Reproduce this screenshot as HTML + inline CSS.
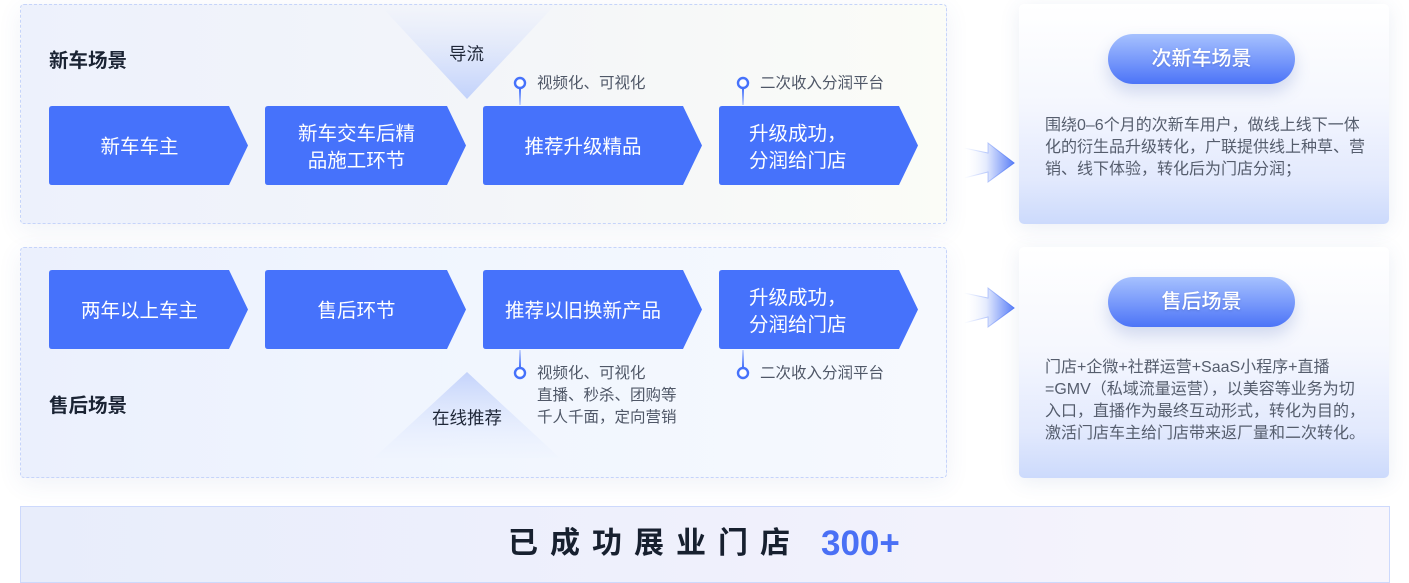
<!DOCTYPE html>
<html><head><meta charset="utf-8"><style>
*{margin:0;padding:0;box-sizing:border-box}
body{width:1409px;height:583px;background:#fff;position:relative;overflow:hidden;font-family:"Liberation Sans","Noto Sans CJK SC",sans-serif}
.abs{position:absolute}
.panel{position:absolute;border:1px dashed #c6d4fa;border-radius:4px;box-shadow:0 6px 24px rgba(60,90,160,0.08)}
.card{position:absolute;border-radius:5px;background:linear-gradient(180deg,#ffffff 0%,#f5f7fe 45%,#e2e9fd 80%,#ccdafc 100%);box-shadow:0 4px 20px rgba(60,90,160,0.10)}
.pill{position:absolute;left:1108px;width:187px;height:50px;border-radius:25px;background:linear-gradient(180deg,#a6c1fe 0%,#7a9bfb 50%,#4c74f7 100%);box-shadow:0 8px 16px rgba(70,100,180,0.22);color:#fff;font-size:20px;font-weight:500;text-align:center;line-height:50px;text-shadow:0 1px 2px rgba(40,60,140,0.25)}
.desc{position:absolute;left:1045px;font-size:16px;line-height:22px;color:#555d6d;white-space:nowrap}
.ct{position:absolute;color:#fff;font-size:19.5px;line-height:27px;text-align:center}
.lbl{position:absolute;font-size:19.5px;font-weight:700;color:#1b2434;line-height:24px}
.note{position:absolute;font-size:15.5px;line-height:22px;color:#4f5767;white-space:nowrap}
</style></head><body>

<div class="panel" style="left:20px;top:4px;width:927px;height:220px;background:linear-gradient(90deg,#edf1fc 0%,#f3f5f9 50%,#fbfcf7 100%)"></div>
<div class="panel" style="left:20px;top:247px;width:927px;height:231px;background:linear-gradient(90deg,#ebf0fd 0%,#f1f6fe 50%,#f6f9fe 100%)"></div>

<div class="card" style="left:1019px;top:4px;width:370px;height:220px"></div>
<div class="card" style="left:1019px;top:247px;width:370px;height:231px"></div>

<svg class="abs" style="left:0;top:0" width="1409" height="583" viewBox="0 0 1409 583">
<defs>
<linearGradient id="tg1" x1="0" y1="0" x2="0" y2="1">
<stop offset="0" stop-color="#f3f5fb" stop-opacity="0.6"/>
<stop offset="1" stop-color="#c2d2fb"/>
</linearGradient>
<linearGradient id="tg2" x1="0" y1="0" x2="0" y2="1">
<stop offset="0" stop-color="#c4d3fb"/>
<stop offset="1" stop-color="#eef3fe" stop-opacity="0.3"/>
</linearGradient>
<linearGradient id="ag" x1="0" y1="0" x2="1" y2="0">
<stop offset="0" stop-color="#ffffff" stop-opacity="0"/>
<stop offset="0.45" stop-color="#e3eafd"/>
<stop offset="1" stop-color="#5c80f7"/>
</linearGradient>
<linearGradient id="ast" x1="0" y1="0" x2="1" y2="0">
<stop offset="0" stop-color="#8aa5f9" stop-opacity="0"/>
<stop offset="0.5" stop-color="#8aa5f9" stop-opacity="0.6"/>
<stop offset="1" stop-color="#5077f6"/>
</linearGradient>
<linearGradient id="stem1" x1="0" y1="0" x2="0" y2="1">
<stop offset="0" stop-color="#4672fb"/>
<stop offset="1" stop-color="#c9d6fc"/>
</linearGradient>
<linearGradient id="stem2" x1="0" y1="0" x2="0" y2="1">
<stop offset="0" stop-color="#c9d6fc"/>
<stop offset="1" stop-color="#4672fb"/>
</linearGradient>
</defs>

<polygon points="380,5 555,5 467,99" fill="url(#tg1)"/>
<polygon points="467,372 560,458 374,458" fill="url(#tg2)"/>

<g fill="#4672fb">
<path d="M52,106 H229 L248,145.5 L229,185 H52 Q49,185 49,182 V109 Q49,106 52,106 Z"/>
<path d="M268,106 H447 L466,145.5 L447,185 H268 Q265,185 265,182 V109 Q265,106 268,106 Z"/>
<path d="M486,106 H683 L702,145.5 L683,185 H486 Q483,185 483,182 V109 Q483,106 486,106 Z"/>
<path d="M722,106 H899 L918,145.5 L899,185 H722 Q719,185 719,182 V109 Q719,106 722,106 Z"/>
<path d="M52,270 H229 L248,309.5 L229,349 H52 Q49,349 49,346 V273 Q49,270 52,270 Z"/>
<path d="M268,270 H447 L466,309.5 L447,349 H268 Q265,349 265,346 V273 Q265,270 268,270 Z"/>
<path d="M486,270 H683 L702,309.5 L683,349 H486 Q483,349 483,346 V273 Q483,270 486,270 Z"/>
<path d="M722,270 H899 L918,309.5 L899,349 H722 Q719,349 719,346 V273 Q719,270 722,270 Z"/>
</g>

<rect x="519" y="89" width="2" height="16" fill="url(#stem1)"/>
<circle cx="520" cy="83" r="5" fill="#fff" stroke="#4672fb" stroke-width="2.4"/>
<rect x="742" y="89" width="2" height="16" fill="url(#stem1)"/>
<circle cx="743" cy="83" r="5" fill="#fff" stroke="#4672fb" stroke-width="2.4"/>
<rect x="519" y="350" width="2" height="17" fill="url(#stem2)"/>
<circle cx="520" cy="373" r="5" fill="#fff" stroke="#4672fb" stroke-width="2.4"/>
<rect x="742" y="350" width="2" height="17" fill="url(#stem2)"/>
<circle cx="743" cy="373" r="5" fill="#fff" stroke="#4672fb" stroke-width="2.4"/>

<polygon points="964,148 988,153 988,143 1014,163 988,182 988,172 964,178" fill="url(#ag)"/>
<polyline points="964,148 988,153 988,143 1014,163 988,182 988,172 964,178" fill="none" stroke="url(#ast)" stroke-width="1"/>
<polygon points="964,293 988,298 988,288 1014,308 988,327 988,317 964,323" fill="url(#ag)"/>
<polyline points="964,293 988,298 988,288 1014,308 988,327 988,317 964,323" fill="none" stroke="url(#ast)" stroke-width="1"/>
</svg>

<div class="lbl" style="left:49px;top:49px">新车场景</div>
<div class="lbl" style="left:49px;top:394px">售后场景</div>
<div class="abs" style="left:449px;top:42px;font-size:17.5px;line-height:24px;color:#1f2738">导流</div>
<div class="abs" style="left:432px;top:406px;font-size:17.5px;line-height:24px;color:#1f2738">在线推荐</div>

<div class="ct" style="left:49px;width:181px;top:134px">新车车主</div>
<div class="ct" style="left:265px;width:183px;top:121px">新车交车后精<br>品施工环节</div>
<div class="ct" style="left:483px;width:200px;top:134px">推荐升级精品</div>
<div class="ct" style="left:749px;top:121px;text-align:left">升级成功，<br>分润给门店</div>
<div class="ct" style="left:49px;width:181px;top:298px">两年以上车主</div>
<div class="ct" style="left:265px;width:183px;top:298px">售后环节</div>
<div class="ct" style="left:483px;width:200px;top:298px">推荐以旧换新产品</div>
<div class="ct" style="left:749px;top:285px;text-align:left">升级成功，<br>分润给门店</div>

<div class="note" style="left:537px;top:73px">视频化、可视化</div>
<div class="note" style="left:760px;top:73px">二次收入分润平台</div>
<div class="note" style="left:537px;top:363px">视频化、可视化<br>直播、秒杀、团购等<br>千人千面，定向营销</div>
<div class="note" style="left:760px;top:363px">二次收入分润平台</div>

<div class="pill" style="top:34px">次新车场景</div>
<div class="pill" style="top:277px">售后场景</div>

<div class="desc" style="top:115px">围绕0–6个月的次新车用户，做线上线下一体<br>化的衍生品升级转化，广联提供线上种草、营<br>销、线下体验，转化后为门店分润；</div>
<div class="desc" style="top:357px">门店+企微+社群运营+SaaS小程序+直播<br>=GMV（私域流量运营），以美容等业务为切<br>入口，直播作为最终互动形式，转化为目的，<br>激活门店车主给门店带来返厂量和二次转化。</div>

<div class="abs" style="left:20px;top:506px;width:1370px;height:77px;border:1px solid #cdd9fc;background:linear-gradient(90deg,#e8edfb 0%,#eff0fc 50%,#f7f5fc 100%)"></div>
<div class="abs" style="left:508px;top:523px;font-size:30px;line-height:42px;font-weight:700;letter-spacing:12px;color:#17202f;white-space:nowrap">已成功展业门店</div>
<div class="abs" style="left:821px;top:521px;font-size:35px;line-height:46px;font-weight:700;color:#4a70f5;white-space:nowrap">300+</div>

</body></html>
